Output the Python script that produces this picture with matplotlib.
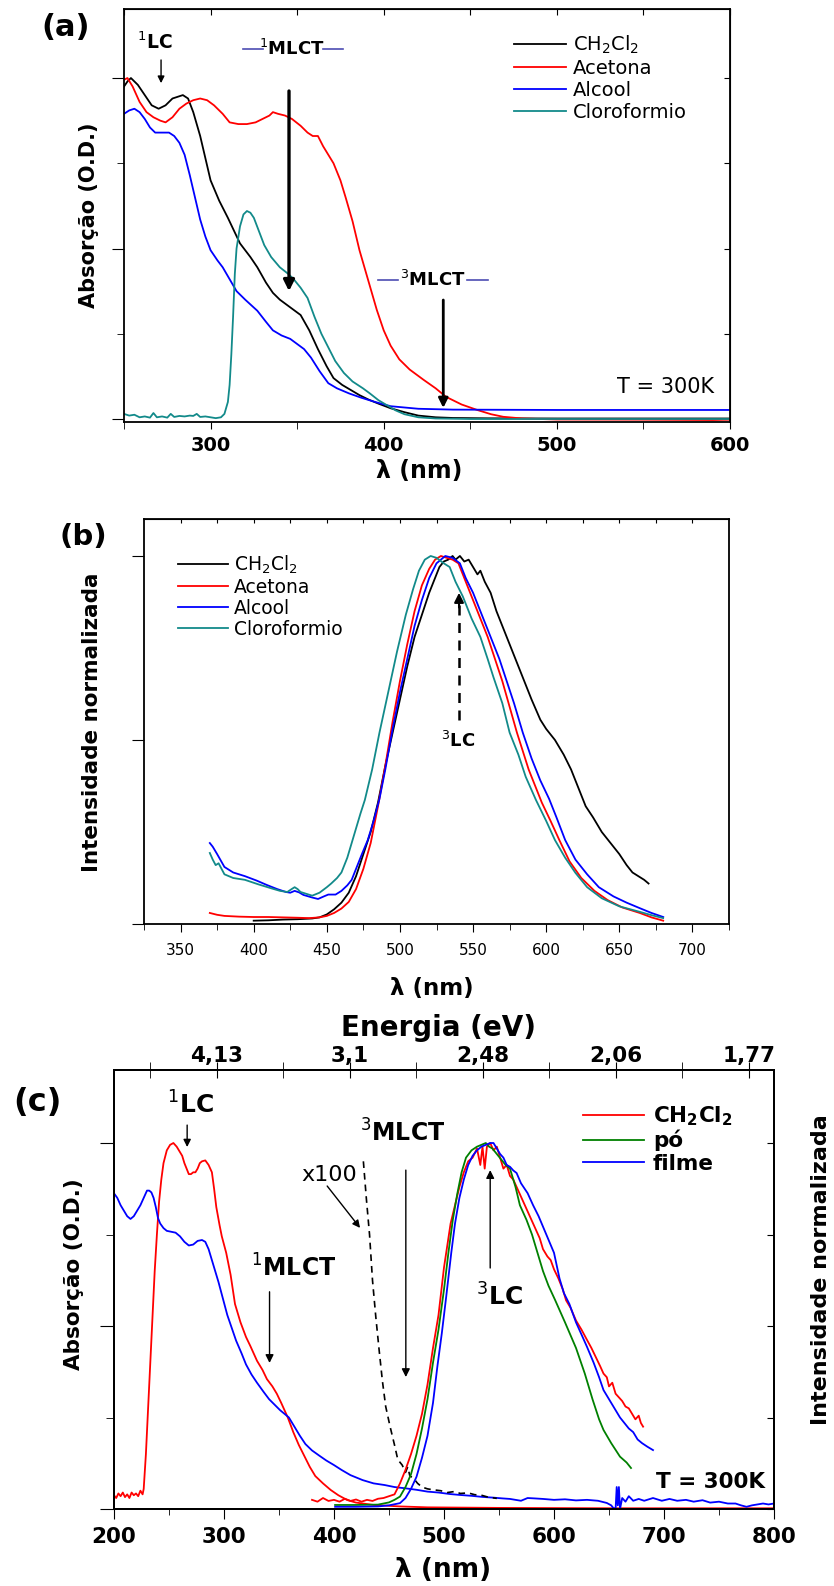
import matplotlib
matplotlib.use("Agg")
import matplotlib.pyplot as plt
from matplotlib.ticker import NullFormatter

W, H = 834, 1586

# ---------------- (a) absorption in different solvents ----------------
a_nm_ch2cl2 = [250, 252, 254, 258, 262, 266, 270, 274, 278, 281, 284, 287, 290, 294, 300, 305, 310, 317, 323, 327,
               332, 336, 340, 344, 348, 352, 357, 362, 367, 371, 376, 381, 386, 391, 397, 404, 412, 420, 430, 440,
               460, 500, 550, 600]
a_ch2cl2 = [1.95, 1.98, 2.0, 1.96, 1.9, 1.84, 1.82, 1.84, 1.88, 1.89, 1.9, 1.88, 1.8, 1.66, 1.4, 1.28, 1.18, 1.03, 0.95, 0.89,
            0.8, 0.74, 0.7, 0.67, 0.64, 0.61, 0.52, 0.41, 0.31, 0.24, 0.2, 0.17, 0.14, 0.115, 0.09, 0.063, 0.04, 0.02, 0.01, 0.006,
            0.004, 0.003, 0.003, 0.003]

a_nm_acetona = [250, 252, 255, 259, 263, 267, 271, 274, 278, 282, 286, 290, 294, 298, 302, 307, 311, 316, 321, 326,
                330, 334, 336, 339, 343, 347, 352, 356, 359, 362, 365, 368, 371, 375, 378, 382, 386, 392, 396, 400,
                404, 409, 415, 423, 430, 436, 445, 454, 462, 469, 480, 500, 550, 590, 600]
a_acetona = [1.99, 2.0, 1.95, 1.86, 1.8, 1.77, 1.75, 1.74, 1.77, 1.82, 1.85, 1.87, 1.88, 1.87, 1.84, 1.79, 1.74, 1.73, 1.73, 1.74,
             1.76, 1.78, 1.8, 1.79, 1.78, 1.76, 1.72, 1.68, 1.66, 1.66, 1.6, 1.55, 1.5, 1.4, 1.3, 1.16, 0.99, 0.78, 0.64, 0.52,
             0.43, 0.35, 0.29, 0.23, 0.18, 0.13, 0.085, 0.053, 0.028, 0.013, 0.003, -0.003, -0.004, -0.006, -0.004]

a_nm_alcool = [250, 253, 256, 259, 262, 265, 268, 272, 276, 279, 282, 285, 288, 291, 294, 297, 300, 304, 307, 311,
               315, 320, 327, 332, 336, 341, 346, 350, 354, 358, 363, 368, 373, 380, 387, 395, 404, 420, 440, 500,
               550, 600]
a_alcool = [1.79, 1.81, 1.82, 1.8, 1.76, 1.71, 1.68, 1.68, 1.68, 1.66, 1.62, 1.55, 1.43, 1.3, 1.17, 1.07, 0.99, 0.93, 0.89, 0.82,
            0.75, 0.7, 0.635, 0.57, 0.52, 0.49, 0.47, 0.44, 0.41, 0.36, 0.28, 0.21, 0.18, 0.15, 0.125, 0.1, 0.075, 0.06, 0.055, 0.053,
            0.053, 0.053]

a_nm_cloro = [250, 253, 256, 259, 262, 265, 267, 269, 272, 275, 277, 279, 282, 285, 288, 290, 292, 294, 297, 300,
              303, 306, 308, 310, 311, 312, 313, 314, 315, 317, 319, 321, 323, 325, 328, 331, 335, 340, 345, 348,
              352, 356, 360, 364, 368, 372, 377, 382, 388, 392, 397, 402, 407, 412, 420, 430, 450, 600]
a_cloro = [0.03, 0.02, 0.025, 0.01, 0.015, 0.008, 0.035, 0.01, 0.015, 0.008, 0.03, 0.012, 0.018, 0.015, 0.02, 0.018, 0.03, 0.012, 0.015, 0.01,
           0.005, 0.01, 0.03, 0.1, 0.2, 0.38, 0.6, 0.85, 1.0, 1.13, 1.2, 1.22, 1.21, 1.18, 1.1, 1.02, 0.95, 0.89, 0.85, 0.82,
           0.77, 0.71, 0.6, 0.5, 0.42, 0.34, 0.27, 0.22, 0.18, 0.15, 0.11, 0.08, 0.05, 0.028, 0.01, 0.003, 0.0, 0.0]

# ---------------- (b) normalised emission in solvents ----------------
b_nm_ch2cl2 = [400, 410, 420, 430, 440, 445, 450, 455, 460, 465, 470, 475, 480, 485, 490, 495, 500, 505, 510, 515,
               520, 524, 527, 530, 533, 536, 538, 541, 544, 547, 550, 553, 555, 558, 562, 566, 570, 574, 578, 582,
               586, 590, 596, 600, 606, 612, 617, 622, 627, 632, 638, 644, 650, 655, 659, 663, 667, 670]
b_ch2cl2 = [0.009, 0.01, 0.012, 0.013, 0.015, 0.018, 0.026, 0.04, 0.058, 0.085, 0.13, 0.19, 0.25, 0.33, 0.43, 0.52, 0.61, 0.7, 0.78, 0.84,
            0.9, 0.94, 0.97, 0.985, 0.99, 1.0, 0.99, 1.0, 0.985, 0.99, 0.97, 0.95, 0.96, 0.93, 0.9, 0.85, 0.81, 0.77, 0.73, 0.69,
            0.65, 0.61, 0.555, 0.53, 0.5, 0.46, 0.42, 0.37, 0.32, 0.29, 0.25, 0.22, 0.19, 0.16, 0.14, 0.13, 0.12, 0.11]

b_nm_acetona = [370, 375, 380, 390, 400, 410, 420, 430, 438, 445, 450, 455, 460, 465, 470, 475, 480, 485, 490, 495,
                500, 505, 510, 515, 520, 524, 528, 532, 536, 540, 544, 548, 554, 560, 565, 570, 575, 580, 588, 597,
                603, 609, 616, 624, 633, 642, 652, 664, 672, 680]
b_acetona = [0.03, 0.025, 0.022, 0.02, 0.019, 0.019, 0.018, 0.017, 0.016, 0.018, 0.022, 0.03, 0.042, 0.06, 0.095, 0.15, 0.22, 0.32, 0.43, 0.55,
             0.66, 0.76, 0.85, 0.92, 0.965, 0.99, 1.0, 0.995, 0.99, 0.98, 0.94, 0.9, 0.84, 0.78, 0.72, 0.66, 0.59, 0.52, 0.42, 0.33,
             0.28, 0.228, 0.17, 0.125, 0.09, 0.065, 0.045, 0.03, 0.018, 0.009]

b_nm_alcool = [370, 372, 375, 380, 386, 394, 402, 409, 416, 422, 425, 428, 431, 434, 440, 444, 448, 451, 456, 460,
               464, 467, 470, 474, 478, 482, 486, 490, 495, 500, 505, 510, 515, 520, 525, 531, 536, 541, 545, 550,
               556, 562, 568, 573, 578, 584, 590, 596, 602, 607, 613, 620, 628, 636, 646, 655, 664, 672, 680]
b_alcool = [0.22, 0.21, 0.19, 0.155, 0.14, 0.13, 0.118, 0.106, 0.095, 0.087, 0.085, 0.09, 0.086, 0.079, 0.072, 0.068, 0.075, 0.08, 0.08, 0.09,
            0.105, 0.12, 0.15, 0.19, 0.228, 0.28, 0.34, 0.42, 0.53, 0.63, 0.72, 0.81, 0.88, 0.94, 0.98, 1.0, 0.995, 0.98, 0.94, 0.9,
            0.84, 0.78, 0.72, 0.66, 0.6, 0.52, 0.45, 0.39, 0.34, 0.29, 0.228, 0.175, 0.135, 0.1, 0.075, 0.058, 0.043, 0.03, 0.019]

b_nm_cloro = [370, 372, 374, 376, 378, 380, 386, 394, 403, 412, 418, 423, 426, 428, 430, 432, 436, 440, 445, 450,
              453, 457, 460, 464, 467, 470, 473, 476, 481, 486, 492, 498, 504, 509, 513, 517, 521, 525, 530, 534,
              538, 543, 549, 555, 560, 564, 570, 575, 581, 586, 593, 600, 606, 613, 620, 628, 638, 650, 664, 672, 680]
b_cloro = [0.193, 0.175, 0.16, 0.165, 0.15, 0.135, 0.125, 0.12, 0.108, 0.097, 0.09, 0.087, 0.095, 0.1, 0.095, 0.087, 0.082, 0.077, 0.085, 0.1,
           0.11, 0.125, 0.14, 0.18, 0.22, 0.26, 0.3, 0.337, 0.42, 0.52, 0.63, 0.74, 0.84, 0.91, 0.96, 0.99, 1.0, 0.995, 0.98, 0.97,
           0.93, 0.89, 0.83, 0.78, 0.72, 0.67, 0.6, 0.52, 0.46, 0.4, 0.337, 0.28, 0.228, 0.18, 0.139, 0.1, 0.07, 0.048, 0.033, 0.024, 0.016]

# ---------------- (c) absorption (left) and emission (right) ----------------
c_nm_abs_ch2cl2 = [200, 202, 204, 206, 208, 210, 212, 214, 216, 218, 220, 222, 224, 226, 227, 229, 231, 233, 235, 237,
                   239, 241, 243, 245, 248, 251, 254, 257, 260, 262, 264, 266, 268, 270, 272, 274, 276, 278, 280, 283,
                   286, 289, 291, 293, 296, 298, 302, 306, 310, 315, 320, 324, 330, 335, 339, 344, 348, 352, 358, 363,
                   368, 373, 378, 383, 390, 397, 404, 412, 420, 436, 460, 485, 550, 650, 800]
c_abs_ch2cl2 = [0.075, 0.06, 0.085, 0.07, 0.09, 0.065, 0.08, 0.06, 0.09, 0.075, 0.085, 0.07, 0.1, 0.08, 0.11, 0.3, 0.55, 0.8, 1.05, 1.3,
                1.5, 1.68, 1.8, 1.89, 1.96, 1.99, 2.0, 1.98, 1.95, 1.93, 1.89, 1.86, 1.83, 1.83, 1.84, 1.84, 1.86, 1.89, 1.9, 1.905,
                1.88, 1.84, 1.75, 1.65, 1.55, 1.49, 1.4, 1.28, 1.12, 1.02, 0.94, 0.89, 0.81, 0.76, 0.71, 0.67, 0.63, 0.58, 0.5, 0.42,
                0.35, 0.29, 0.23, 0.18, 0.14, 0.104, 0.075, 0.049, 0.035, 0.022, 0.014, 0.009, 0.006, 0.004, 0.004]

c_nm_abs_filme = [200, 203, 206, 209, 212, 215, 218, 221, 224, 227, 230, 232, 234, 236, 238, 240, 242, 245, 248, 252,
                  256, 260, 264, 268, 272, 276, 280, 283, 286, 289, 292, 295, 299, 303, 307, 311, 316, 320, 325, 330,
                  336, 341, 346, 351, 355, 359, 364, 369, 374, 380, 387, 393, 400, 407, 415, 426, 436, 446, 455, 465,
                  475, 485, 495, 505, 514, 525, 535, 545, 553, 560, 565, 570, 576, 582, 590, 600, 610, 620, 630, 640,
                  648, 652, 654, 656, 657, 658, 659, 660, 662, 665, 668, 672, 677, 682, 690, 698, 705, 712, 720, 727,
                  735, 742, 750, 758, 765, 770, 775, 780, 785, 790, 795, 800]
c_abs_filme = [1.725, 1.7, 1.66, 1.63, 1.6, 1.585, 1.6, 1.63, 1.66, 1.7, 1.74, 1.74, 1.73, 1.7, 1.65, 1.59, 1.56, 1.535, 1.52, 1.515,
               1.51, 1.49, 1.46, 1.44, 1.445, 1.465, 1.47, 1.46, 1.42, 1.36, 1.3, 1.24, 1.15, 1.06, 0.99, 0.92, 0.85, 0.79, 0.735, 0.69,
               0.64, 0.6, 0.57, 0.54, 0.52, 0.5, 0.45, 0.4, 0.355, 0.32, 0.29, 0.265, 0.24, 0.213, 0.185, 0.158, 0.14, 0.131, 0.12, 0.113,
               0.105, 0.095, 0.09, 0.082, 0.077, 0.072, 0.066, 0.062, 0.058, 0.055, 0.05, 0.045, 0.06, 0.058, 0.055, 0.05, 0.053, 0.047, 0.05, 0.045,
               0.033, 0.02, 0.005, 0.0, 0.12, 0.02, 0.12, 0.0, 0.06, 0.04, 0.07, 0.045, 0.055, 0.045, 0.06, 0.045, 0.055, 0.045, 0.05, 0.04,
               0.048, 0.035, 0.04, 0.03, 0.03, 0.02, 0.012, 0.02, 0.025, 0.03, 0.025, 0.03]

c_nm_x100 = [426.7, 429.5, 432.3, 435, 438, 441, 444, 447, 451, 455, 458, 462, 465, 467, 469, 472, 476, 480, 485, 490,
             497, 503, 509, 515, 522, 528, 533, 540, 548]
c_x100 = [1.9, 1.69, 1.5, 1.25, 1.05, 0.87, 0.7, 0.56, 0.45, 0.35, 0.27, 0.24, 0.2, 0.23, 0.18, 0.17, 0.14, 0.12, 0.11, 0.105,
          0.1, 0.09, 0.095, 0.085, 0.088, 0.078, 0.077, 0.065, 0.058]

c_nm_em_ch2cl2 = [380, 385, 390, 395, 400, 405, 410, 415, 420, 425, 430, 435, 440, 445, 450, 455, 460, 465, 470, 475,
                  480, 485, 490, 495, 500, 503, 506, 510, 514, 518, 522, 526, 530, 533, 535, 537, 539, 542, 545, 548,
                  551, 554, 557, 560, 563, 566, 569, 572, 575, 578, 581, 584, 587, 590, 594, 597, 600, 604, 608, 611,
                  615, 620, 625, 630, 634, 638, 642, 645, 648, 650, 653, 656, 659, 662, 665, 668, 671, 674, 677, 679, 681]
c_em_ch2cl2 = [0.025, 0.02, 0.03, 0.022, 0.025, 0.02, 0.028, 0.022, 0.026, 0.02, 0.025, 0.022, 0.028, 0.03, 0.035, 0.04, 0.07, 0.107, 0.15, 0.2,
               0.26, 0.34, 0.44, 0.53, 0.66, 0.72, 0.78, 0.83, 0.88, 0.92, 0.95, 0.96, 0.985, 0.94, 0.99, 0.93, 0.99, 1.0, 0.98, 0.99,
               0.96, 0.93, 0.94, 0.91, 0.9, 0.88, 0.86, 0.84, 0.82, 0.8, 0.78, 0.76, 0.74, 0.71, 0.69, 0.68, 0.655, 0.63, 0.6, 0.57,
               0.55, 0.515, 0.49, 0.462, 0.44, 0.415, 0.39, 0.37, 0.36, 0.335, 0.345, 0.315, 0.305, 0.295, 0.28, 0.275, 0.26, 0.245, 0.255, 0.235, 0.225]

c_nm_em_po = [401, 420, 440, 450, 455, 460, 465, 470, 475, 480, 485, 490, 495, 500, 504, 508, 512, 516, 520, 525,
              530, 534, 538, 541, 544, 548, 552, 556, 560, 565, 569, 575, 580, 585, 590, 595, 601, 610, 620, 628,
              635, 641, 645, 652, 660, 666, 670]
c_em_po = [0.011, 0.011, 0.012, 0.018, 0.025, 0.034, 0.06, 0.095, 0.15, 0.22, 0.3, 0.4, 0.49, 0.6, 0.7, 0.79, 0.86, 0.92, 0.96, 0.98,
           0.99, 0.995, 1.0, 0.99, 0.985, 0.97, 0.955, 0.94, 0.93, 0.88, 0.83, 0.79, 0.75, 0.7, 0.65, 0.61, 0.571, 0.51, 0.44, 0.37,
           0.3, 0.245, 0.216, 0.18, 0.143, 0.127, 0.112]

c_nm_em_filme = [401, 420, 440, 450, 460, 465, 470, 475, 480, 485, 490, 494, 498, 502, 506.6, 510, 514, 518, 522, 526,
                 530, 534, 538, 542, 545, 548, 551, 554, 557, 560, 563, 566, 570, 576, 581, 586, 593, 600, 605, 609,
                 614, 620, 626, 630, 636, 641, 645, 650, 656, 660, 664, 668, 672, 676, 680, 685, 690]
c_em_filme = [0.006, 0.006, 0.007, 0.01, 0.016, 0.03, 0.055, 0.088, 0.14, 0.2, 0.29, 0.39, 0.48, 0.58, 0.7, 0.78, 0.85, 0.9, 0.94, 0.965,
              0.98, 0.99, 0.995, 1.0, 1.0, 0.985, 0.97, 0.96, 0.94, 0.935, 0.925, 0.918, 0.89, 0.863, 0.83, 0.8, 0.75, 0.7, 0.63, 0.59,
              0.56, 0.51, 0.47, 0.443, 0.4, 0.36, 0.325, 0.3, 0.27, 0.25, 0.235, 0.22, 0.21, 0.19, 0.18, 0.17, 0.161]

energy_nm = [300, 400, 500, 600, 700]
energy_labels = ['4,13', '3,1', '2,48', '2,06', '1,77']

TEAL = '#128a8a'
SLATE = '#4d4db3'


def box(l, t, r, b):
    return [l / W, 1 - b / H, (r - l) / W, (b - t) / H]


def at(px, py):
    return px / W, 1 - py / H


def arrow(ax, x, y0, y1, lw=1.0, ms=12):
    ax.annotate('', xy=(x, y1), xytext=(x, y0),
                arrowprops=dict(arrowstyle='-|>', color='black', lw=lw,
                                mutation_scale=ms, shrinkA=0, shrinkB=0))


def frame(ax, lw=1.3):
    for sp in ax.spines.values():
        sp.set_linewidth(lw)


fig = plt.figure(figsize=(W / 100, H / 100), dpi=100)

# ======================= (a) =======================
ax = fig.add_axes(box(124, 9, 730, 422))
ax.plot(a_nm_ch2cl2, a_ch2cl2, color='black', lw=1.3, label='CH$_2$Cl$_2$')
ax.plot(a_nm_acetona, a_acetona, color='red', lw=1.3, label='Acetona')
ax.plot(a_nm_alcool, a_alcool, color='blue', lw=1.3, label='Alcool')
ax.plot(a_nm_cloro, a_cloro, color=TEAL, lw=1.3, label='Cloroformio')
ax.set_xlim(250, 600)
ax.set_ylim(-0.0176, 2.405)
ax.set_xticks([300, 400, 500, 600])
ax.set_xticklabels(['300', '400', '500', '600'], fontweight='bold', fontsize=14)
ax.set_xticks([250, 350, 450, 550], minor=True)
ax.set_yticks([0, 1, 2])
ax.set_yticks([0.5, 1.5], minor=True)
ax.yaxis.set_major_formatter(NullFormatter())
ax.tick_params(axis='x', which='both', direction='out', length=5, pad=5)
ax.tick_params(axis='y', which='major', direction='out', length=9)
ax.tick_params(axis='y', which='minor', direction='out', length=5)
sec = ax.secondary_xaxis('top')
sec.set_xticks([250, 300, 350, 400, 450, 500, 550, 600])
sec.xaxis.set_major_formatter(NullFormatter())
sec.tick_params(direction='in', length=4)
sec = ax.secondary_yaxis('right')
sec.set_yticks([0, 0.5, 1, 1.5, 2])
sec.yaxis.set_major_formatter(NullFormatter())
sec.tick_params(direction='in', length=4)
frame(ax)
ax.legend(loc='upper left', bbox_to_anchor=(0.6436, 0.94), frameon=False, fontsize=14,
          handlelength=2.65, handletextpad=0.36, labelspacing=0.15, borderpad=0, borderaxespad=0)

ax.text(267.6, 2.21, r'$^{1}$LC', ha='center', va='center', fontsize=13.5, fontweight='bold')
arrow(ax, 271.4, 2.106, 1.97, lw=1.0, ms=10)
ax.text(347, 2.17, r'$^{1}$MLCT', ha='center', va='center', fontsize=13, fontweight='bold')
ax.plot([318.8, 330.3], [2.17, 2.17], color=SLATE, lw=1.2)
ax.plot([365, 376.5], [2.17, 2.17], color=SLATE, lw=1.2)
arrow(ax, 345.3, 1.924, 0.75, lw=2.4, ms=16)
ax.text(428.6, 0.815, r'$^{3}$MLCT', ha='center', va='center', fontsize=13, fontweight='bold')
ax.plot([396.8, 408.4], [0.815, 0.815], color=SLATE, lw=1.2)
ax.plot([448, 460.4], [0.815, 0.815], color=SLATE, lw=1.2)
arrow(ax, 434.4, 0.698, 0.065, lw=2.0, ms=14)
ax.text(562.5, 0.188, 'T = 300K', ha='center', va='center', fontsize=15)

fig.text(*at(66, 27), '(a)', ha='center', va='center', fontsize=22, fontweight='bold')
fig.text(*at(89, 215), 'Absorção (O.D.)', ha='center', va='center', rotation=90, fontsize=15, fontweight='bold')
fig.text(*at(419, 471), 'λ (nm)', ha='center', va='center', fontsize=17, fontweight='bold')

# ======================= (b) =======================
ax = fig.add_axes(box(144, 519, 729, 924))
ax.plot(b_nm_ch2cl2, b_ch2cl2, color='black', lw=1.3, label='CH$_2$Cl$_2$')
ax.plot(b_nm_acetona, b_acetona, color='red', lw=1.3, label='Acetona')
ax.plot(b_nm_alcool, b_alcool, color='blue', lw=1.3, label='Alcool')
ax.plot(b_nm_cloro, b_cloro, color=TEAL, lw=1.3, label='Cloroformio')
ax.set_xlim(325, 725)
ax.set_ylim(0, 1.1005)
ax.set_xticks([350, 400, 450, 500, 550, 600, 650, 700])
ax.set_xticklabels(['350', '400', '450', '500', '550', '600', '650', '700'], fontsize=11)
ax.set_xticks([325, 375, 425, 475, 525, 575, 625, 675, 725], minor=True)
ax.set_yticks([0, 0.5, 1.0])
ax.yaxis.set_major_formatter(NullFormatter())
ax.tick_params(axis='x', which='major', direction='out', length=6, pad=8)
ax.tick_params(axis='x', which='minor', direction='out', length=4)
ax.tick_params(axis='y', direction='out', length=9)
sec = ax.secondary_xaxis('top')
sec.set_xticks(list(range(350, 725, 25)))
sec.xaxis.set_major_formatter(NullFormatter())
sec.tick_params(direction='in', length=3)
frame(ax)
ax.legend(loc='upper left', bbox_to_anchor=(0.058, 0.914), frameon=False, fontsize=13.5,
          handlelength=2.67, handletextpad=0.32, labelspacing=0.1, borderpad=0, borderaxespad=0)

ax.plot([540.4, 540.4], [0.554, 0.87], color='black', lw=1.8, dashes=(4, 3))
arrow(ax, 540.4, 0.86, 0.9, lw=1.5, ms=14)
ax.text(539.7, 0.497, r'$^{3}$LC', ha='center', va='center', fontsize=13, fontweight='bold')

fig.text(*at(83, 537), '(b)', ha='center', va='center', fontsize=21, fontweight='bold')
fig.text(*at(92, 722), 'Intensidade normalizada', ha='center', va='center', rotation=90, fontsize=15.5, fontweight='bold')
fig.text(*at(432, 988), 'λ (nm)', ha='center', va='center', fontsize=16.5, fontweight='bold')

# ======================= (c) =======================
ax = fig.add_axes(box(114, 1070, 774, 1509))
ax.plot(c_nm_abs_ch2cl2, c_abs_ch2cl2, color='red', lw=1.3)
ax.plot(c_nm_abs_filme, c_abs_filme, color='blue', lw=1.3)
ax.plot(c_nm_x100, c_x100, color='black', lw=1.2, dashes=(4, 3))
ax.set_xlim(200, 800)
ax.set_ylim(0, 2.399)
ax.set_xticks([200, 300, 400, 500, 600, 700, 800])
ax.set_xticklabels(['200', '300', '400', '500', '600', '700', '800'], fontweight='bold', fontsize=15.5)
ax.set_xticks([250, 350, 450, 550, 650, 750], minor=True)
ax.set_yticks([0, 1, 2])
ax.set_yticks([0.5, 1.5], minor=True)
ax.yaxis.set_major_formatter(NullFormatter())
ax.tick_params(axis='x', which='major', direction='out', length=7, pad=6)
ax.tick_params(axis='x', which='minor', direction='out', length=4)
ax.tick_params(axis='y', which='major', direction='out', length=10)
ax.tick_params(axis='y', which='minor', direction='out', length=6)
frame(ax)

ax.text(269.2, 2.208, r'$^{1}$LC', ha='center', va='center', fontsize=18, fontweight='bold')
arrow(ax, 266.5, 2.098, 1.978, lw=1.0, ms=11)
ax.text(395.4, 1.825, 'x100', ha='center', va='center', fontsize=16)
ax.annotate('', xy=(423.7, 1.536), xytext=(393.8, 1.765),
            arrowprops=dict(arrowstyle='-|>', color='black', lw=1.0, mutation_scale=11, shrinkA=0, shrinkB=0))
ax.text(462, 2.055, r'$^{3}$MLCT', ha='center', va='center', fontsize=17, fontweight='bold')
arrow(ax, 465.3, 1.852, 0.721, lw=1.0, ms=12)
ax.text(363, 1.317, r'$^{1}$MLCT', ha='center', va='center', fontsize=17, fontweight='bold')
arrow(ax, 341.4, 1.187, 0.798, lw=1.0, ms=12)
ax.text(550.3, 1.16, r'$^{3}$LC', ha='center', va='center', fontsize=18, fontweight='bold')
arrow(ax, 542, 1.317, 1.852, lw=1.0, ms=12)
ax.text(742, 0.149, 'T = 300K', ha='center', va='center', fontsize=15.5, fontweight='bold')

axr = ax.twinx()
axr.plot(c_nm_em_ch2cl2, c_em_ch2cl2, color='red', lw=1.3, label='CH$_\\mathbf{2}$Cl$_\\mathbf{2}$')
axr.plot(c_nm_em_po, c_em_po, color='green', lw=1.3, label='pó')
axr.plot(c_nm_em_filme, c_em_filme, color='blue', lw=1.3, label='filme')
axr.set_ylim(0, 1.1995)
axr.set_yticks([0, 0.25, 0.5, 0.75, 1.0])
axr.yaxis.set_major_formatter(NullFormatter())
axr.tick_params(axis='y', direction='in', length=5)
frame(axr)
axr.legend(loc='upper left', bbox_to_anchor=(0.71, 0.922), frameon=False,
           prop={'weight': 'bold', 'size': 15.5},
           handlelength=2.84, handletextpad=0.42, labelspacing=0.1, borderpad=0, borderaxespad=0)

axt = ax.twiny()
axt.set_xlim(222.6, 718.8)
axt.set_xticks(energy_nm)
axt.set_xticklabels(energy_labels, fontweight='bold', fontsize=15.5)
axt.set_xticks([250, 350, 450, 550, 650], minor=True)
axt.tick_params(axis='x', which='both', direction='inout', length=12, pad=-3)
frame(axt)

fig.text(*at(37, 1103), '(c)', ha='center', va='center', fontsize=23, fontweight='bold')
fig.text(*at(439, 1028), 'Energia (eV)', ha='center', va='center', fontsize=20, fontweight='bold')
fig.text(*at(74, 1274), 'Absorção (O.D.)', ha='center', va='center', rotation=90, fontsize=15.5, fontweight='bold')
fig.text(*at(821, 1270), 'Intensidade normalizada', ha='center', va='center', rotation=90, fontsize=16, fontweight='bold')
fig.text(*at(443, 1570), 'λ (nm)', ha='center', va='center', fontsize=19, fontweight='bold')

fig.savefig('out.png', dpi=100)
